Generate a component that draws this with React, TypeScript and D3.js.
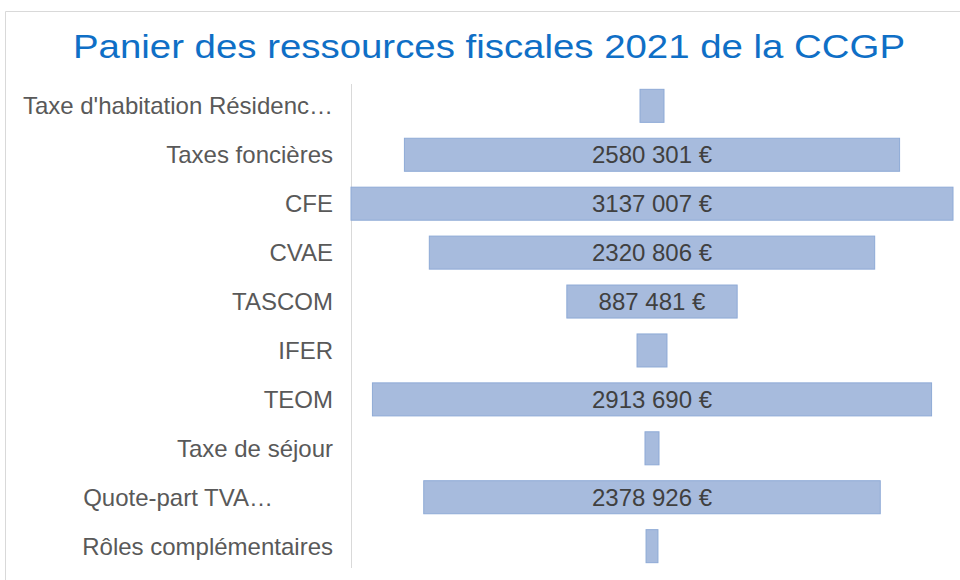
import { useEffect, useRef } from "react";
import * as d3 from "d3";

const categories = [
  "Taxe d'habitation Résidenc…",
  "Taxes foncières",
  "CFE",
  "CVAE",
  "TASCOM",
  "IFER",
  "TEOM",
  "Taxe de séjour",
  "Quote-part TVA…",
  "Rôles complémentaires",
];
const values = [125000, 2580301, 3137007, 2320806, 887481, 156000, 2913690, 73000, 2378926, 62000];
const title = "Panier des ressources fiscales 2021 de la CCGP";

// only the last group of three digits is separated ("2580 301 €")
const fmt = d3.formatLocale({ decimal: ",", thousands: " ", grouping: [3, 9], currency: ["", " €"] }).format("$,d");

export default function App() {
  const svgRef = useRef<SVGSVGElement | null>(null);

  useEffect(() => {
    if (!svgRef.current) return;
    const svg = d3.select(svgRef.current);
    svg.selectAll("*").remove();

    const width = 960;
    const height = 580;
    const axisX = 351;
    const center = 652;
    const font = "'Liberation Sans', Arial, sans-serif";

    // frame
    svg.append("path")
      .attr("d", `M5.5,${height} V11.5 H${width}`)
      .attr("fill", "none")
      .attr("stroke", "#d9d9d9")
      .attr("stroke-width", 1);

    svg.append("text")
      .attr("x", 73)
      .attr("y", 58)
      .attr("fill", "#0f6fc6")
      .attr("font-family", font)
      .attr("font-size", 34)
      .attr("textLength", 832)
      .attr("lengthAdjust", "spacingAndGlyphs")
      .text(title);

    const y = d3.scaleBand<string>()
      .domain(categories)
      .range([81.5, 570.5])
      .paddingInner(0.325)
      .paddingOuter(0.16);

    const w = d3.scaleLinear()
      .domain([0, d3.max(values) as number])
      .range([0, 602]);

    const data = categories.map((c, i) => ({ c, v: values[i] }));

    svg.append("line")
      .attr("x1", axisX + 0.5).attr("x2", axisX + 0.5)
      .attr("y1", 84).attr("y2", 568)
      .attr("stroke", "#d9d9d9");

    svg.selectAll("rect.bar")
      .data(data)
      .enter()
      .append("rect")
      .attr("class", "bar")
      .attr("x", d => center - w(d.v) / 2)
      .attr("y", d => y(d.c) as number)
      .attr("width", d => w(d.v))
      .attr("height", y.bandwidth())
      .attr("fill", "#a7bbdd")
      .attr("stroke", "#8eaad6")
      .attr("stroke-width", 1);

    svg.selectAll("text.val")
      .data(data.filter(d => w(d.v) > 100))
      .enter()
      .append("text")
      .attr("class", "val")
      .attr("x", center)
      .attr("y", d => (y(d.c) as number) + y.bandwidth() / 2)
      .attr("dy", "0.35em")
      .attr("text-anchor", "middle")
      .attr("fill", "#404040")
      .attr("font-family", font)
      .attr("font-size", 24)
      .text(d => fmt(d.v));

    svg.selectAll("text.cat")
      .data(data)
      .enter()
      .append("text")
      .attr("class", "cat")
      .attr("x", d => (d.c.startsWith("Quote") ? 273 : 333))
      .attr("y", d => (y(d.c) as number) + y.bandwidth() / 2)
      .attr("dy", "0.35em")
      .attr("text-anchor", "end")
      .attr("fill", "#595959")
      .attr("font-family", font)
      .attr("font-size", 24)
      .text(d => d.c);
  }, []);

  return (
    <svg
      ref={svgRef}
      width={960}
      height={580}
      style={{ position: "absolute", left: 0, top: 0, background: "#fff" }}
    />
  );
}
